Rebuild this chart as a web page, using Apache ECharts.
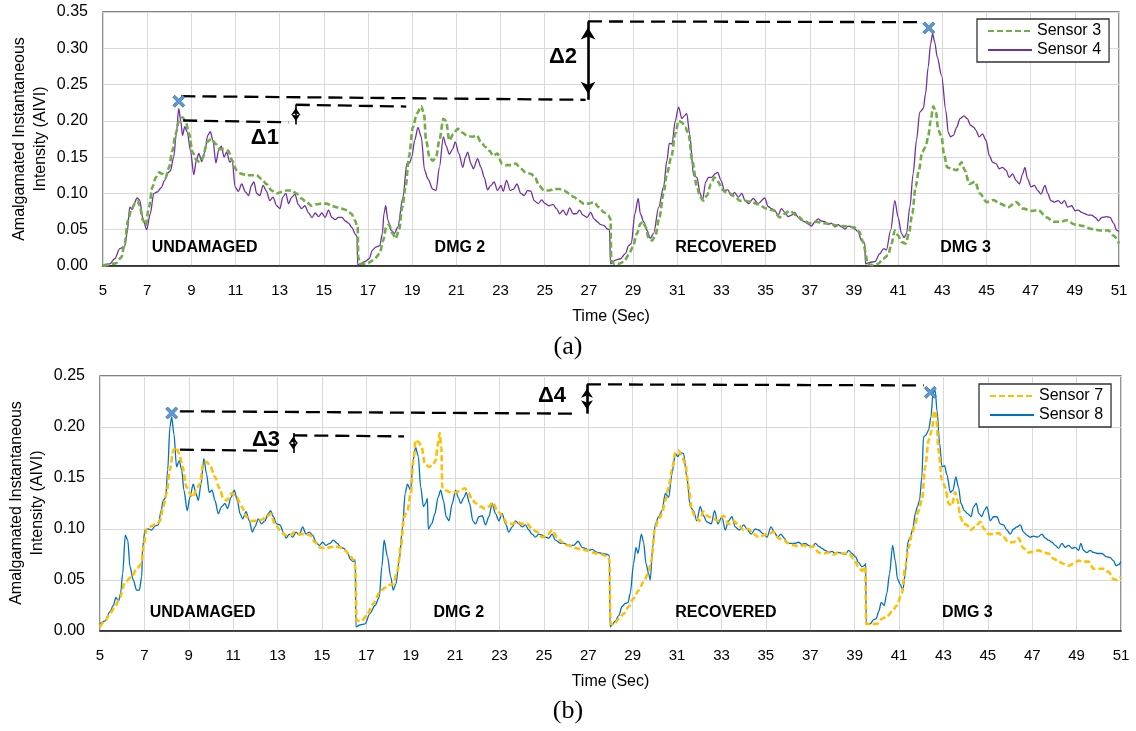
<!DOCTYPE html>
<html>
<head>
<meta charset="utf-8">
<script src="https://cdn.jsdelivr.net/npm/echarts@6/dist/echarts.min.js"></script>
<style>
  html, body { margin: 0; padding: 0; background: #fff; }
  #chart { width: 1136px; height: 731px; }
</style>
</head>
<body>
<div id="chart"></div>
<script>
// ---- Panel (a): Sensor 3 / Sensor 4, [time (s), AIVI] ----
const sensor3 = [[5.0,0.000],[5.30,0.002],[5.60,0.004],[5.83,0.012],[5.98,0.031],[6.13,0.063],[6.28,0.077],[6.44,0.086],[6.56,0.090],[6.66,0.083],[6.81,0.063],[6.93,0.056],[7.08,0.081],[7.24,0.109],[7.39,0.122],[7.54,0.129],[7.69,0.127],[7.84,0.122],[7.99,0.136],[8.14,0.159],[8.29,0.182],[8.44,0.200],[8.60,0.205],[8.75,0.198],[8.90,0.182],[9.05,0.157],[9.23,0.146],[9.38,0.143],[9.53,0.150],[9.71,0.171],[9.91,0.175],[10.11,0.168],[10.29,0.161],[10.47,0.161],[10.66,0.159],[10.86,0.145],[11.04,0.132],[11.27,0.127],[11.50,0.125],[11.72,0.125],[11.95,0.125],[12.18,0.120],[12.40,0.113],[12.63,0.104],[12.86,0.100],[13.08,0.102],[13.31,0.104],[13.53,0.104],[13.76,0.100],[13.99,0.093],[14.21,0.088],[14.44,0.083],[14.67,0.085],[14.89,0.086],[15.12,0.086],[15.35,0.083],[15.57,0.081],[15.80,0.079],[16.03,0.077],[16.25,0.072],[16.40,0.063],[16.53,0.054],[16.56,0.012],[16.63,0.003],[16.93,0.003],[17.24,0.008],[17.53,0.017],[17.68,0.035],[17.83,0.054],[17.95,0.057],[18.10,0.045],[18.25,0.038],[18.40,0.049],[18.55,0.081],[18.70,0.109],[18.85,0.150],[19.03,0.191],[19.21,0.210],[19.41,0.220],[19.53,0.210],[19.63,0.173],[19.78,0.150],[19.93,0.145],[20.08,0.150],[20.23,0.173],[20.41,0.203],[20.53,0.200],[20.68,0.173],[20.86,0.182],[21.06,0.189],[21.26,0.184],[21.47,0.180],[21.71,0.178],[21.92,0.180],[22.11,0.171],[22.31,0.164],[22.49,0.159],[22.67,0.152],[22.86,0.155],[23.06,0.141],[23.24,0.139],[23.47,0.139],[23.69,0.141],[23.92,0.134],[24.14,0.129],[24.37,0.127],[24.56,0.122],[24.74,0.111],[24.97,0.104],[25.20,0.104],[25.42,0.106],[25.65,0.106],[25.87,0.104],[26.10,0.100],[26.32,0.095],[26.55,0.090],[26.77,0.086],[27.00,0.086],[27.23,0.088],[27.45,0.081],[27.68,0.074],[27.87,0.070],[27.98,0.065],[28.01,0.008],[28.13,0.003],[28.35,0.003],[28.58,0.006],[28.80,0.015],[28.98,0.026],[29.18,0.045],[29.33,0.058],[29.44,0.061],[29.56,0.054],[29.71,0.038],[29.86,0.035],[30.01,0.042],[30.19,0.067],[30.38,0.100],[30.53,0.127],[30.73,0.150],[30.91,0.182],[31.06,0.200],[31.21,0.198],[31.36,0.191],[31.51,0.182],[31.68,0.145],[31.89,0.109],[32.04,0.095],[32.19,0.090],[32.34,0.097],[32.53,0.113],[32.68,0.122],[32.86,0.116],[33.02,0.106],[33.17,0.102],[33.39,0.100],[33.62,0.095],[33.84,0.090],[34.07,0.090],[34.37,0.088],[34.67,0.085],[35.04,0.079],[35.34,0.077],[35.64,0.067],[35.87,0.072],[36.09,0.076],[36.40,0.070],[36.70,0.063],[37.00,0.059],[37.30,0.061],[37.60,0.059],[37.91,0.058],[38.21,0.056],[38.51,0.055],[38.81,0.054],[39.04,0.053],[39.24,0.047],[39.42,0.033],[39.54,0.017],[39.60,0.003],[39.87,0.001],[40.10,0.003],[40.32,0.010],[40.55,0.015],[40.70,0.031],[40.85,0.049],[41.00,0.042],[41.15,0.033],[41.34,0.031],[41.49,0.045],[41.64,0.072],[41.79,0.109],[41.94,0.132],[42.09,0.157],[42.24,0.164],[42.36,0.178],[42.47,0.200],[42.59,0.220],[42.71,0.212],[42.82,0.187],[42.97,0.178],[43.07,0.155],[43.22,0.136],[43.42,0.134],[43.65,0.132],[43.87,0.143],[44.02,0.132],[44.22,0.113],[44.48,0.116],[44.70,0.100],[45.01,0.088],[45.31,0.091],[45.61,0.086],[45.99,0.081],[46.34,0.088],[46.67,0.079],[47.05,0.076],[47.35,0.077],[47.73,0.067],[48.03,0.061],[48.33,0.061],[48.63,0.063],[49.01,0.057],[49.39,0.055],[49.76,0.051],[50.14,0.049],[50.52,0.049],[50.75,0.042],[51.0,0.031]];

const sensor4 = [[5.03,0.002],[5.30,0.003],[5.53,0.010],[5.76,0.024],[5.98,0.027],[6.09,0.045],[6.21,0.081],[6.33,0.078],[6.40,0.085],[6.54,0.094],[6.66,0.091],[6.81,0.065],[6.98,0.050],[7.14,0.072],[7.30,0.100],[7.45,0.102],[7.64,0.108],[7.79,0.118],[7.95,0.129],[8.05,0.131],[8.20,0.150],[8.32,0.182],[8.43,0.217],[8.52,0.200],[8.60,0.180],[8.70,0.192],[8.82,0.184],[8.96,0.159],[9.11,0.126],[9.23,0.146],[9.34,0.155],[9.47,0.144],[9.61,0.157],[9.74,0.180],[9.86,0.185],[9.98,0.173],[10.11,0.142],[10.24,0.160],[10.36,0.165],[10.48,0.150],[10.60,0.157],[10.74,0.143],[10.85,0.146],[10.98,0.109],[11.13,0.103],[11.28,0.113],[11.45,0.102],[11.59,0.097],[11.72,0.111],[11.83,0.116],[11.96,0.100],[12.10,0.097],[12.25,0.111],[12.40,0.103],[12.55,0.090],[12.70,0.095],[12.86,0.083],[13.01,0.079],[13.14,0.095],[13.28,0.100],[13.40,0.086],[13.55,0.095],[13.69,0.099],[13.84,0.085],[13.99,0.079],[14.14,0.083],[14.31,0.073],[14.46,0.067],[14.61,0.073],[14.76,0.068],[14.91,0.073],[15.06,0.067],[15.21,0.077],[15.36,0.067],[15.51,0.064],[15.66,0.067],[15.82,0.067],[15.97,0.062],[16.12,0.059],[16.27,0.053],[16.42,0.044],[16.50,0.041],[16.53,0.001],[16.63,0.003],[16.85,0.006],[17.05,0.010],[17.20,0.022],[17.35,0.026],[17.53,0.028],[17.65,0.045],[17.72,0.072],[17.80,0.083],[17.90,0.063],[18.05,0.049],[18.20,0.045],[18.35,0.054],[18.58,0.095],[18.76,0.141],[18.88,0.142],[18.98,0.150],[19.11,0.173],[19.26,0.191],[19.41,0.178],[19.56,0.132],[19.71,0.120],[19.93,0.106],[20.08,0.104],[20.23,0.136],[20.41,0.178],[20.53,0.166],[20.68,0.154],[20.83,0.161],[20.95,0.171],[21.11,0.155],[21.29,0.136],[21.41,0.150],[21.51,0.157],[21.66,0.141],[21.77,0.134],[21.96,0.148],[22.11,0.136],[22.26,0.122],[22.41,0.105],[22.56,0.111],[22.71,0.116],[22.86,0.104],[23.02,0.111],[23.12,0.103],[23.27,0.118],[23.44,0.104],[23.59,0.106],[23.74,0.113],[23.92,0.100],[24.07,0.097],[24.22,0.104],[24.37,0.103],[24.52,0.090],[24.71,0.086],[24.86,0.091],[25.02,0.086],[25.20,0.083],[25.38,0.085],[25.53,0.079],[25.68,0.072],[25.83,0.077],[25.98,0.070],[26.13,0.080],[26.28,0.072],[26.43,0.072],[26.58,0.077],[26.73,0.070],[26.92,0.067],[27.08,0.074],[27.23,0.065],[27.38,0.061],[27.53,0.057],[27.68,0.056],[27.83,0.051],[27.93,0.050],[27.98,0.003],[28.20,0.008],[28.43,0.010],[28.65,0.017],[28.80,0.028],[28.92,0.031],[29.08,0.072],[29.23,0.093],[29.33,0.072],[29.48,0.061],[29.63,0.049],[29.78,0.038],[29.93,0.045],[30.16,0.081],[30.38,0.109],[30.53,0.145],[30.64,0.169],[30.76,0.168],[30.91,0.200],[31.06,0.219],[31.21,0.203],[31.32,0.207],[31.43,0.210],[31.56,0.182],[31.74,0.125],[31.89,0.122],[32.04,0.100],[32.14,0.090],[32.29,0.116],[32.41,0.122],[32.56,0.122],[32.71,0.127],[32.83,0.129],[32.98,0.118],[33.14,0.104],[33.29,0.105],[33.44,0.097],[33.59,0.101],[33.77,0.095],[33.92,0.100],[34.07,0.090],[34.22,0.086],[34.44,0.093],[34.67,0.086],[34.96,0.094],[35.11,0.082],[35.26,0.079],[35.41,0.077],[35.56,0.070],[35.72,0.079],[35.87,0.074],[36.02,0.068],[36.17,0.070],[36.32,0.074],[36.47,0.067],[36.62,0.063],[36.77,0.061],[36.92,0.058],[37.08,0.055],[37.23,0.061],[37.38,0.065],[37.53,0.062],[37.68,0.061],[37.83,0.057],[37.98,0.059],[38.13,0.054],[38.28,0.057],[38.44,0.054],[38.59,0.051],[38.74,0.055],[38.89,0.054],[39.04,0.051],[39.19,0.047],[39.34,0.035],[39.49,0.032],[39.52,0.003],[39.72,0.005],[39.95,0.006],[40.17,0.017],[40.35,0.024],[40.47,0.022],[40.66,0.049],[40.85,0.090],[41.00,0.067],[41.15,0.045],[41.27,0.039],[41.38,0.045],[41.53,0.081],[41.68,0.127],[41.83,0.173],[41.98,0.212],[42.14,0.217],[42.24,0.237],[42.36,0.274],[42.47,0.306],[42.56,0.320],[42.66,0.308],[42.77,0.288],[42.97,0.262],[43.16,0.214],[43.27,0.184],[43.37,0.178],[43.50,0.180],[43.65,0.191],[43.80,0.203],[43.98,0.207],[44.13,0.203],[44.28,0.194],[44.43,0.191],[44.52,0.187],[44.67,0.178],[44.82,0.182],[44.98,0.173],[45.13,0.152],[45.28,0.143],[45.43,0.141],[45.58,0.134],[45.73,0.136],[45.88,0.132],[46.03,0.122],[46.18,0.127],[46.34,0.118],[46.49,0.113],[46.64,0.127],[46.74,0.136],[46.86,0.120],[47.02,0.109],[47.17,0.111],[47.32,0.104],[47.47,0.099],[47.65,0.111],[47.77,0.100],[47.92,0.090],[48.07,0.088],[48.25,0.090],[48.40,0.086],[48.53,0.090],[48.68,0.081],[48.86,0.083],[49.01,0.076],[49.16,0.077],[49.31,0.074],[49.46,0.072],[49.61,0.070],[49.76,0.070],[49.92,0.067],[50.07,0.062],[50.22,0.067],[50.44,0.068],[50.60,0.067],[50.75,0.059],[50.90,0.049],[51.0,0.048]];

// ---- Panel (b): Sensor 7 / Sensor 8, [time (s), AIVI] ----
const sensor7 = [[5.0,0.004],[5.23,0.010],[5.45,0.017],[5.68,0.024],[5.90,0.033],[6.13,0.048],[6.43,0.053],[6.65,0.061],[6.88,0.066],[6.95,0.082],[7.10,0.100],[7.33,0.103],[7.55,0.105],[7.70,0.108],[7.85,0.122],[8.00,0.135],[8.15,0.158],[8.30,0.177],[8.42,0.180],[8.57,0.174],[8.72,0.161],[8.90,0.141],[9.05,0.135],[9.20,0.131],[9.35,0.140],[9.50,0.144],[9.65,0.164],[9.80,0.166],[9.98,0.161],[10.18,0.151],[10.38,0.140],[10.56,0.130],[10.71,0.128],[10.93,0.135],[11.16,0.131],[11.38,0.122],[11.61,0.112],[11.83,0.108],[12.06,0.108],[12.28,0.109],[12.51,0.112],[12.69,0.115],[12.88,0.105],[13.11,0.099],[13.33,0.094],[13.56,0.094],[13.78,0.097],[14.01,0.095],[14.23,0.095],[14.46,0.094],[14.68,0.087],[14.91,0.082],[15.14,0.081],[15.36,0.082],[15.59,0.083],[15.81,0.082],[16.04,0.079],[16.26,0.074],[16.44,0.069],[16.50,0.063],[16.56,0.010],[16.79,0.010],[17.01,0.015],[17.31,0.027],[17.58,0.037],[17.80,0.042],[18.03,0.045],[18.21,0.046],[18.40,0.059],[18.55,0.082],[18.70,0.112],[18.85,0.118],[19.00,0.135],[19.12,0.167],[19.22,0.187],[19.37,0.185],[19.49,0.180],[19.64,0.164],[19.82,0.161],[19.97,0.162],[20.12,0.167],[20.23,0.184],[20.30,0.194],[20.38,0.180],[20.42,0.141],[20.57,0.138],[20.80,0.136],[21.02,0.136],[21.25,0.138],[21.44,0.140],[21.62,0.135],[21.77,0.128],[21.95,0.125],[22.15,0.122],[22.34,0.120],[22.52,0.122],[22.70,0.126],[22.90,0.118],[23.12,0.113],[23.35,0.105],[23.57,0.105],[23.80,0.107],[24.02,0.105],[24.25,0.105],[24.47,0.100],[24.70,0.097],[24.92,0.092],[25.15,0.094],[25.37,0.099],[25.60,0.092],[25.82,0.087],[26.05,0.084],[26.27,0.083],[26.50,0.081],[26.72,0.080],[26.95,0.079],[27.17,0.077],[27.40,0.076],[27.62,0.075],[27.85,0.073],[27.95,0.070],[28.00,0.007],[28.15,0.006],[28.37,0.012],[28.60,0.017],[28.82,0.024],[29.04,0.032],[29.27,0.040],[29.49,0.048],[29.69,0.056],[29.84,0.069],[29.99,0.099],[30.14,0.108],[30.32,0.115],[30.47,0.128],[30.62,0.141],[30.77,0.158],[30.92,0.175],[31.07,0.177],[31.22,0.171],[31.37,0.164],[31.52,0.141],[31.67,0.118],[31.82,0.112],[32.00,0.108],[32.19,0.117],[32.42,0.112],[32.64,0.110],[32.87,0.108],[33.10,0.113],[33.32,0.105],[33.54,0.108],[33.77,0.104],[34.00,0.099],[34.22,0.100],[34.45,0.095],[34.67,0.092],[35.05,0.095],[35.35,0.097],[35.57,0.091],[35.80,0.089],[36.02,0.086],[36.25,0.084],[36.47,0.083],[36.70,0.084],[36.92,0.082],[37.15,0.083],[37.38,0.077],[37.60,0.076],[37.83,0.077],[38.05,0.075],[38.28,0.077],[38.50,0.076],[38.73,0.076],[38.95,0.071],[39.18,0.063],[39.33,0.059],[39.48,0.063],[39.52,0.007],[39.78,0.007],[40.00,0.007],[40.23,0.012],[40.45,0.014],[40.68,0.019],[40.90,0.025],[41.13,0.037],[41.28,0.063],[41.43,0.082],[41.58,0.095],[41.73,0.105],[41.88,0.118],[42.03,0.128],[42.18,0.161],[42.33,0.187],[42.48,0.197],[42.59,0.216],[42.68,0.210],[42.78,0.177],[42.93,0.148],[43.08,0.141],[43.23,0.125],[43.38,0.123],[43.53,0.136],[43.64,0.128],[43.76,0.112],[43.91,0.105],[44.06,0.104],[44.21,0.099],[44.43,0.102],[44.66,0.107],[44.84,0.100],[45.03,0.095],[45.26,0.095],[45.48,0.096],[45.71,0.092],[45.93,0.087],[46.16,0.087],[46.38,0.091],[46.61,0.081],[46.83,0.077],[47.06,0.078],[47.29,0.079],[47.51,0.077],[47.74,0.076],[47.96,0.071],[48.19,0.068],[48.41,0.066],[48.64,0.064],[48.86,0.066],[49.09,0.069],[49.31,0.068],[49.54,0.068],[49.76,0.061],[49.99,0.061],[50.21,0.061],[50.44,0.058],[50.66,0.051],[50.81,0.050],[51.0,0.053]];

const sensor8 = [[5.0,0.007],[5.23,0.010],[5.45,0.019],[5.60,0.025],[5.72,0.033],[5.83,0.029],[5.93,0.037],[6.02,0.056],[6.14,0.094],[6.25,0.089],[6.35,0.063],[6.50,0.050],[6.65,0.040],[6.77,0.040],[6.88,0.053],[6.92,0.082],[7.03,0.099],[7.18,0.100],[7.33,0.099],[7.48,0.103],[7.63,0.104],[7.75,0.118],[7.85,0.128],[7.96,0.131],[8.05,0.158],[8.15,0.200],[8.23,0.210],[8.33,0.193],[8.45,0.161],[8.57,0.167],[8.68,0.158],[8.78,0.138],[8.93,0.118],[9.05,0.131],[9.20,0.144],[9.32,0.135],[9.43,0.128],[9.55,0.144],[9.68,0.169],[9.80,0.154],[9.92,0.136],[10.05,0.138],[10.18,0.128],[10.33,0.115],[10.48,0.122],[10.63,0.125],[10.75,0.120],[10.90,0.131],[11.05,0.138],[11.19,0.128],[11.31,0.115],[11.43,0.110],[11.58,0.117],[11.73,0.108],[11.86,0.097],[11.98,0.102],[12.13,0.110],[12.28,0.105],[12.43,0.108],[12.58,0.115],[12.69,0.118],[12.81,0.112],[12.96,0.105],[13.11,0.104],[13.26,0.097],[13.38,0.091],[13.53,0.095],[13.68,0.092],[13.83,0.097],[13.98,0.094],[14.13,0.102],[14.28,0.095],[14.43,0.097],[14.58,0.094],[14.73,0.087],[14.88,0.084],[15.03,0.087],[15.18,0.084],[15.36,0.086],[15.51,0.089],[15.69,0.086],[15.84,0.082],[15.99,0.081],[16.14,0.077],[16.29,0.070],[16.41,0.068],[16.50,0.070],[16.53,0.004],[16.71,0.006],[16.94,0.007],[17.16,0.017],[17.39,0.025],[17.58,0.033],[17.70,0.063],[17.80,0.089],[17.95,0.073],[18.10,0.053],[18.21,0.040],[18.33,0.046],[18.48,0.069],[18.63,0.102],[18.75,0.135],[18.85,0.144],[19.00,0.138],[19.10,0.167],[19.22,0.180],[19.34,0.171],[19.45,0.141],[19.57,0.122],[19.67,0.125],[19.75,0.130],[19.79,0.100],[19.94,0.105],[20.09,0.115],[20.23,0.131],[20.35,0.138],[20.47,0.128],[20.60,0.112],[20.72,0.108],[20.87,0.125],[21.02,0.138],[21.14,0.131],[21.25,0.125],[21.40,0.131],[21.50,0.136],[21.65,0.125],[21.80,0.108],[21.92,0.105],[22.07,0.112],[22.22,0.113],[22.37,0.104],[22.52,0.112],[22.67,0.125],[22.82,0.115],[22.97,0.108],[23.12,0.115],[23.27,0.105],[23.42,0.097],[23.57,0.102],[23.72,0.108],[23.87,0.105],[24.02,0.102],[24.17,0.104],[24.32,0.099],[24.47,0.095],[24.62,0.092],[24.77,0.095],[24.92,0.094],[25.07,0.092],[25.22,0.091],[25.37,0.095],[25.52,0.089],[25.75,0.086],[25.90,0.086],[26.12,0.084],[26.34,0.084],[26.54,0.088],[26.72,0.082],[26.87,0.081],[27.02,0.079],[27.17,0.080],[27.40,0.077],[27.62,0.076],[27.85,0.075],[27.95,0.074],[27.98,0.004],[28.07,0.006],[28.22,0.010],[28.37,0.015],[28.52,0.024],[28.67,0.027],[28.79,0.028],[28.89,0.037],[29.04,0.066],[29.15,0.082],[29.24,0.076],[29.39,0.095],[29.49,0.087],[29.60,0.066],[29.72,0.056],[29.79,0.050],[29.90,0.082],[30.02,0.105],[30.17,0.112],[30.32,0.118],[30.47,0.135],[30.62,0.131],[30.77,0.154],[30.92,0.174],[31.04,0.171],[31.14,0.175],[31.29,0.174],[31.44,0.151],[31.59,0.122],[31.74,0.118],[31.89,0.108],[32.04,0.122],[32.19,0.113],[32.34,0.107],[32.54,0.105],[32.69,0.118],[32.84,0.105],[33.02,0.112],[33.17,0.099],[33.32,0.108],[33.47,0.112],[33.62,0.102],[33.80,0.099],[34.00,0.104],[34.15,0.100],[34.34,0.095],[34.52,0.100],[34.67,0.099],[34.90,0.095],[35.05,0.092],[35.23,0.102],[35.38,0.097],[35.53,0.092],[35.68,0.095],[35.83,0.091],[35.98,0.086],[36.13,0.086],[36.28,0.086],[36.47,0.087],[36.62,0.085],[36.77,0.086],[36.92,0.084],[37.08,0.082],[37.23,0.086],[37.38,0.083],[37.53,0.081],[37.68,0.079],[37.83,0.077],[37.98,0.078],[38.13,0.076],[38.28,0.077],[38.43,0.076],[38.58,0.075],[38.73,0.079],[38.88,0.076],[39.03,0.073],[39.18,0.067],[39.33,0.063],[39.43,0.064],[39.50,0.066],[39.52,0.007],[39.70,0.007],[39.85,0.011],[39.97,0.012],[40.08,0.019],[40.20,0.028],[40.33,0.025],[40.45,0.037],[40.57,0.056],[40.71,0.084],[40.83,0.069],[40.93,0.051],[41.05,0.046],[41.17,0.040],[41.28,0.056],[41.40,0.087],[41.50,0.092],[41.62,0.100],[41.73,0.115],[41.83,0.122],[41.92,0.128],[42.03,0.151],[42.10,0.190],[42.21,0.192],[42.33,0.197],[42.44,0.210],[42.53,0.233],[42.63,0.236],[42.71,0.216],[42.83,0.184],[42.93,0.161],[43.05,0.162],[43.16,0.153],[43.31,0.136],[43.43,0.138],[43.56,0.151],[43.68,0.141],[43.79,0.125],[43.94,0.118],[44.09,0.115],[44.24,0.112],[44.36,0.122],[44.48,0.125],[44.60,0.115],[44.73,0.112],[44.84,0.118],[44.96,0.122],[45.11,0.108],[45.26,0.112],[45.41,0.112],[45.56,0.105],[45.71,0.104],[45.86,0.099],[46.01,0.095],[46.16,0.100],[46.31,0.102],[46.46,0.104],[46.61,0.097],[46.76,0.094],[46.91,0.092],[47.06,0.093],[47.24,0.092],[47.44,0.095],[47.59,0.091],[47.74,0.089],[47.89,0.087],[48.04,0.084],[48.19,0.081],[48.34,0.086],[48.49,0.082],[48.64,0.084],[48.79,0.081],[48.94,0.082],[49.09,0.079],[49.19,0.086],[49.31,0.079],[49.46,0.077],[49.61,0.079],[49.76,0.077],[49.94,0.076],[50.14,0.076],[50.33,0.073],[50.51,0.072],[50.66,0.069],[50.78,0.064],[50.89,0.065],[51.0,0.068]];

// ---- Axis ranges ----
const timeRange = [5, 51];
const timeStep = 2;
const aiviMaxA = 0.35;
const aiviMaxB = 0.25;
const aiviStep = 0.05;

// ---- Test stages ----
const stageNames = ['UNDAMAGED', 'DMG 2', 'RECOVERED', 'DMG 3'];
const stageTimesA = [9.60, 21.16, 33.20, 44.05];
const stageTimesB = [9.62, 21.17, 33.20, 44.08];
const stageLevelA = 0.0258;
const stageLevelB = 0.0183;

// ---- Peak markers and delta annotations ----
const peakMarksA = [[8.43, 0.227], [42.39, 0.328]];
const peakMarksB = [[8.23, 0.2137], [42.41, 0.234]];
const deltaNamesA = ['Δ1', 'Δ2'];
const deltaNamesB = ['Δ3', 'Δ4'];
const deltaLabelPosA = [[12.33, 0.176], [25.83, 0.2876]];
const deltaLabelPosB = [[12.48, 0.187], [25.36, 0.230]];
// reference levels: [start, end] of each dashed guide
const guidesA = [
  [[8.55, 0.234], [26.85, 0.229]],
  [[26.96, 0.337], [42.15, 0.336]],
  [[8.63, 0.2005], [13.40, 0.198]],
  [[13.73, 0.2222], [18.73, 0.2197]]
];
const guidesB = [
  [[8.60, 0.2154], [26.27, 0.2131]],
  [[26.94, 0.2418], [42.11, 0.2408]],
  [[8.60, 0.1778], [13.30, 0.1765]],
  [[13.71, 0.1918], [18.70, 0.1908]]
];
// double-headed delta arrows: [main, small]
const arrowsA = [[[26.96, 0.229], [26.96, 0.337]], [[13.73, 0.195], [13.73, 0.2225]]];
const arrowsB = [[[26.94, 0.2131], [26.94, 0.2418]], [[13.71, 0.1745], [13.71, 0.194]]];

const FONT = '"Liberation Sans", Arial, sans-serif';
const X_MARK = 'path://M0,2 L2,0 L6,4 L10,0 L12,2 L8,6 L12,10 L10,12 L6,8 L2,12 L0,10 L4,6 Z';

function curve(name, data, idx, color, width, dash, z) {
  return {
    name, type: 'line', xAxisIndex: idx, yAxisIndex: idx, data,
    symbol: 'none', showSymbol: false, smooth: 0.3, smoothMonotone: 'x',
    lineStyle: { color, width, type: dash || 'solid' },
    itemStyle: { color }, z, silent: true
  };
}

function guideLines(guides, arrows, headSizes) {
  const dashed = guides.map(g => [{ coord: g[0] }, { coord: g[1] }]);
  const arrowLines = arrows.map((a, i) => [
    { coord: a[0], symbol: 'arrow', symbolSize: headSizes[i], symbolOffset: [0, '50%'],
      lineStyle: { type: 'solid', width: i === 0 ? 2.6 : 1.6 } },
    { coord: a[1], symbol: 'arrow', symbolSize: headSizes[i], symbolOffset: [0, '50%'] }
  ]);
  return {
    silent: true, animation: false, symbol: 'none',
    label: { show: false },
    lineStyle: { color: '#000', width: 2.3, type: [14, 7], opacity: 1 },
    emphasis: { disabled: true },
    data: dashed.concat(arrowLines)
  };
}

function peakSeries(idx, marks, guides, arrows, headSizes) {
  return {
    type: 'scatter', xAxisIndex: idx, yAxisIndex: idx, data: marks,
    symbol: X_MARK, symbolSize: 12, z: 6, silent: true,
    itemStyle: { color: '#5B9BD5', borderColor: '#3E6E9E', borderWidth: 0.8, opacity: 1 },
    markLine: guideLines(guides, arrows, headSizes)
  };
}

function textSeries(idx, names, positions, size) {
  return {
    type: 'scatter', xAxisIndex: idx, yAxisIndex: idx, silent: true, z: 7,
    symbolSize: 1, itemStyle: { color: 'rgba(255,255,255,0)', opacity: 1 },
    data: names.map((n, i) => ({ name: n, value: positions[i] })),
    label: { show: true, position: 'inside', formatter: '{b}', color: '#000', opacity: 1,
             textBorderWidth: 0, textShadowBlur: 0,
             fontWeight: 'bold', fontSize: size, fontFamily: FONT }
  };
}

function xAxis(idx) {
  return {
    gridIndex: idx, type: 'value', min: timeRange[0], max: timeRange[1], interval: timeStep,
    axisLine: { show: true, onZero: false, lineStyle: { color: '#1a1a1a', width: 1.5 } },
    axisTick: { show: false },
    axisLabel: { fontSize: 15, color: '#000', margin: 17, fontFamily: FONT },
    splitLine: { show: true, lineStyle: { color: '#d9d9d9', width: 1 } },
    name: 'Time (Sec)', nameLocation: 'middle', nameGap: 43,
    nameTextStyle: { fontSize: 16, color: '#000', fontFamily: FONT }
  };
}

function yAxis(idx, max) {
  return {
    gridIndex: idx, type: 'value', min: 0, max, interval: aiviStep,
    axisLine: { show: false }, axisTick: { show: false },
    axisLabel: { fontSize: 16, color: '#000', margin: 15, fontFamily: FONT,
                 formatter: v => v.toFixed(2) },
    splitLine: { show: true, lineStyle: { color: '#d9d9d9', width: 1 } }
  };
}

function legend(names, left, top) {
  return {
    data: names, orient: 'vertical', left, top,
    padding: [4, 8, 4, 10], itemGap: 3, itemWidth: 44, itemHeight: 16,
    borderColor: '#333', borderWidth: 1.3, backgroundColor: '#fff',
    itemStyle: { opacity: 0, borderWidth: 0 },
    textStyle: { fontSize: 16, color: '#000', fontFamily: FONT },
    selectedMode: false
  };
}

const chart = echarts.init(document.getElementById('chart'), null, { renderer: 'canvas' });

chart.setOption({
  animation: false,
  backgroundColor: '#fff',
  grid: [
    { left: 103, top: 12, width: 1016, height: 254, show: true, borderColor: '#595959', borderWidth: 1.3, backgroundColor: 'transparent' },
    { left: 100, top: 376, width: 1021, height: 255, show: true, borderColor: '#595959', borderWidth: 1.3, backgroundColor: 'transparent' }
  ],
  xAxis: [xAxis(0), xAxis(1)],
  yAxis: [yAxis(0, aiviMaxA), yAxis(1, aiviMaxB)],
  legend: [legend(['Sensor 3', 'Sensor 4'], 977, 19), legend(['Sensor 7', 'Sensor 8'], 979, 384)],
  series: [
    curve('Sensor 3', sensor3, 0, '#70AD47', 2.6, [6, 3], 3),
    curve('Sensor 4', sensor4, 0, '#7030A0', 1.3, null, 2),
    curve('Sensor 7', sensor7, 1, '#FFC000', 2.6, [6, 3], 3),
    curve('Sensor 8', sensor8, 1, '#0070C0', 1.3, null, 2),
    peakSeries(0, peakMarksA, guidesA, arrowsA, [[11, 12], [7, 7]]),
    peakSeries(1, peakMarksB, guidesB, arrowsB, [[9, 9], [7, 7]]),
    textSeries(0, stageNames, stageTimesA.map(t => [t, stageLevelA]), 16),
    textSeries(1, stageNames, stageTimesB.map(t => [t, stageLevelB]), 16),
    textSeries(0, deltaNamesA, deltaLabelPosA, 22),
    textSeries(1, deltaNamesB, deltaLabelPosB, 22)
  ],
  graphic: [
    { type: 'text', x: 30, y: 139, rotation: Math.PI / 2, silent: true,
      style: { text: 'Amalgamated Instantaneous\nIntensity (AIVI)', fontSize: 16, fontFamily: FONT,
               fill: '#000', align: 'center', verticalAlign: 'middle', lineHeight: 21 } },
    { type: 'text', x: 27, y: 503, rotation: Math.PI / 2, silent: true,
      style: { text: 'Amalgamated Instantaneous\nIntensity (AIVI)', fontSize: 16, fontFamily: FONT,
               fill: '#000', align: 'center', verticalAlign: 'middle', lineHeight: 21 } },
    { type: 'text', x: 568, y: 347, silent: true,
      style: { text: '(a)', fontSize: 26, fontFamily: '"Liberation Serif", "Times New Roman", serif',
               fill: '#000', align: 'center', verticalAlign: 'middle' } },
    { type: 'text', x: 568, y: 711, silent: true,
      style: { text: '(b)', fontSize: 26, fontFamily: '"Liberation Serif", "Times New Roman", serif',
               fill: '#000', align: 'center', verticalAlign: 'middle' } }
  ]
});
</script>
</body>
</html>
